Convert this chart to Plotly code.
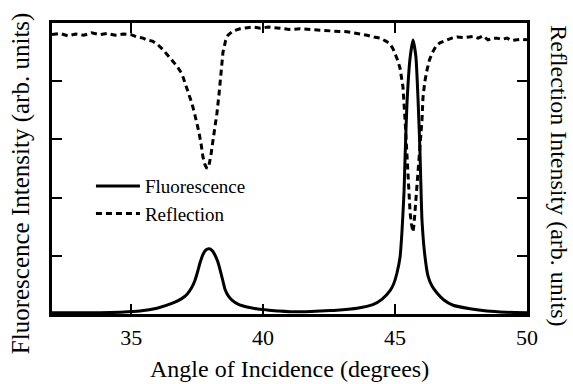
import plotly.graph_objects as go

# Angle of incidence (degrees) and intensities (arb. units, 0-5 scale)
flu_x = [32.0, 33.0, 33.82, 34.6, 35.33, 35.98, 36.59, 36.9, 37.12, 37.3, 37.42, 37.52, 37.61,
         37.72, 37.83, 37.95, 38.07, 38.18, 38.28, 38.37, 38.47, 38.56, 38.68, 38.82, 39.05,
         39.39, 39.75, 40.15, 40.6, 41.02, 41.6, 42.16, 42.55, 42.91, 43.56, 44.16, 44.5,
         44.81, 44.95, 45.07, 45.19, 45.26, 45.34, 45.38, 45.45, 45.57, 45.68, 45.79, 45.87,
         45.94, 45.98, 46.02, 46.13, 46.25, 46.4, 46.59, 46.85, 47.2, 47.84, 48.48, 49.2, 50.0]
flu_y = [0.02, 0.02, 0.02, 0.03, 0.05, 0.10, 0.19, 0.26, 0.34, 0.46, 0.58, 0.73, 0.88,
         1.02, 1.10, 1.12, 1.09, 1.01, 0.90, 0.76, 0.58, 0.42, 0.31, 0.24, 0.17,
         0.12, 0.09, 0.07, 0.05, 0.04, 0.04, 0.05, 0.06, 0.07, 0.10, 0.16, 0.25,
         0.40, 0.52, 0.70, 0.98, 1.40, 2.10, 2.70, 3.60, 4.40, 4.71, 4.42, 3.70,
         2.85, 2.20, 1.62, 1.00, 0.65, 0.48, 0.36, 0.24, 0.15, 0.09, 0.05, 0.03, 0.02]

refl_x = [32.0, 32.3, 32.6, 32.9, 33.2, 33.5, 33.8, 34.1, 34.4, 34.7, 35.0, 35.22, 35.45,
          35.6, 35.8, 35.98, 36.21, 36.4, 36.55, 36.75, 36.93, 37.04, 37.12, 37.19, 37.3,
          37.4, 37.49, 37.57, 37.65, 37.72, 37.8, 37.87, 37.95, 38.02, 38.1, 38.18, 38.25,
          38.33, 38.4, 38.48, 38.58, 38.67, 38.85, 39.12, 39.4, 39.62, 39.9, 40.2, 40.64,
          41.0, 41.4, 41.89, 42.3, 42.7, 43.18, 43.6, 43.94, 44.2, 44.43, 44.65, 44.81,
          44.92, 45.0, 45.1, 45.19, 45.26, 45.3, 45.38, 45.45, 45.49, 45.53, 45.57, 45.62,
          45.68, 45.72, 45.76, 45.83, 45.88, 45.94, 46.02, 46.06, 46.13, 46.21, 46.3, 46.4,
          46.55, 46.7, 46.97, 47.15, 47.35, 47.6, 47.95, 48.15, 48.33, 48.52, 48.7, 48.86,
          49.05, 49.24, 49.42, 49.62, 49.8, 50.0]
refl_y = [4.80, 4.82, 4.78, 4.81, 4.79, 4.83, 4.80, 4.82, 4.79, 4.81, 4.80, 4.76, 4.74,
          4.71, 4.69, 4.64, 4.54, 4.44, 4.36, 4.25, 4.12, 3.98, 3.88, 3.78, 3.62,
          3.45, 3.30, 3.12, 2.92, 2.70, 2.56, 2.50, 2.56, 2.72, 2.98, 3.22, 3.45,
          3.78, 4.10, 4.50, 4.70, 4.79, 4.86, 4.90, 4.92, 4.93, 4.91, 4.93, 4.91,
          4.89, 4.90, 4.88, 4.87, 4.86, 4.85, 4.82, 4.79, 4.76, 4.74, 4.69, 4.64,
          4.56, 4.48, 4.36, 4.22, 4.05, 3.90, 3.33, 2.77, 2.40, 2.00, 1.74, 1.55,
          1.41, 1.55, 1.78, 2.35, 2.62, 2.87, 3.33, 3.73, 4.00, 4.19, 4.36, 4.48,
          4.60, 4.66, 4.71, 4.74, 4.76, 4.75, 4.77, 4.74, 4.78, 4.71, 4.74, 4.74,
          4.72, 4.74, 4.70, 4.71, 4.72, 4.71]

x_ticks = [35, 40, 45, 50]
y_ticks = [0, 1, 2, 3, 4, 5]

FONT = "Liberation Serif"

fig = go.Figure()
fig.add_trace(go.Scatter(x=flu_x, y=flu_y, name="Fluorescence", mode="lines",
                         line=dict(color="black", width=3, shape="spline", smoothing=0.5)))
fig.add_trace(go.Scatter(x=refl_x, y=refl_y, name="Reflection", mode="lines", yaxis="y2",
                         line=dict(color="black", width=3, dash="6px,4px")))

fig.update_layout(
    width=573, height=384,
    margin=dict(l=52, r=46, t=23, b=70),
    paper_bgcolor="white", plot_bgcolor="white",
    font=dict(family=FONT, color="black", size=22),
    showlegend=True,
    legend=dict(x=0.082, y=0.505, xanchor="left", yanchor="top",
                bgcolor="rgba(0,0,0,0)", font=dict(size=19, family=FONT),
                itemwidth=44, tracegroupgap=0),
    xaxis=dict(range=[32, 50], tickvals=x_ticks, ticktext=[str(v) for v in x_ticks],
               ticks="inside", ticklen=10, tickwidth=2, tickcolor="black",
               showline=True, linewidth=3, linecolor="black", mirror="ticks",
               showgrid=False, zeroline=False, ticklabelstandoff=2,
               tickfont=dict(size=22, family=FONT)),
    yaxis=dict(range=[0, 5], tickvals=y_ticks, showticklabels=False,
               ticks="inside", ticklen=10, tickwidth=2, tickcolor="black",
               showline=True, linewidth=3, linecolor="black", mirror="ticks",
               showgrid=False, zeroline=False),
    yaxis2=dict(range=[0, 5], overlaying="y", side="right", showticklabels=False,
                showline=False, ticks="", showgrid=False, zeroline=False),
    annotations=[
        dict(text="Angle of Incidence (degrees)", xref="paper", yref="paper",
             x=0.5, y=-0.19, xanchor="center", yanchor="middle", showarrow=False,
             font=dict(size=24, family=FONT)),
        dict(text="Fluorescence Intensity (arb. units)", xref="paper", yref="paper",
             x=-0.065, y=0.45, xanchor="center", yanchor="middle", showarrow=False,
             textangle=-90, font=dict(size=25, family=FONT)),
        dict(text="Reflection Intensity (arb. units)", xref="paper", yref="paper",
             x=1.067, y=0.474, xanchor="center", yanchor="middle", showarrow=False,
             textangle=90, font=dict(size=24, family=FONT)),
    ],
)

fig.write_html("out.html")
